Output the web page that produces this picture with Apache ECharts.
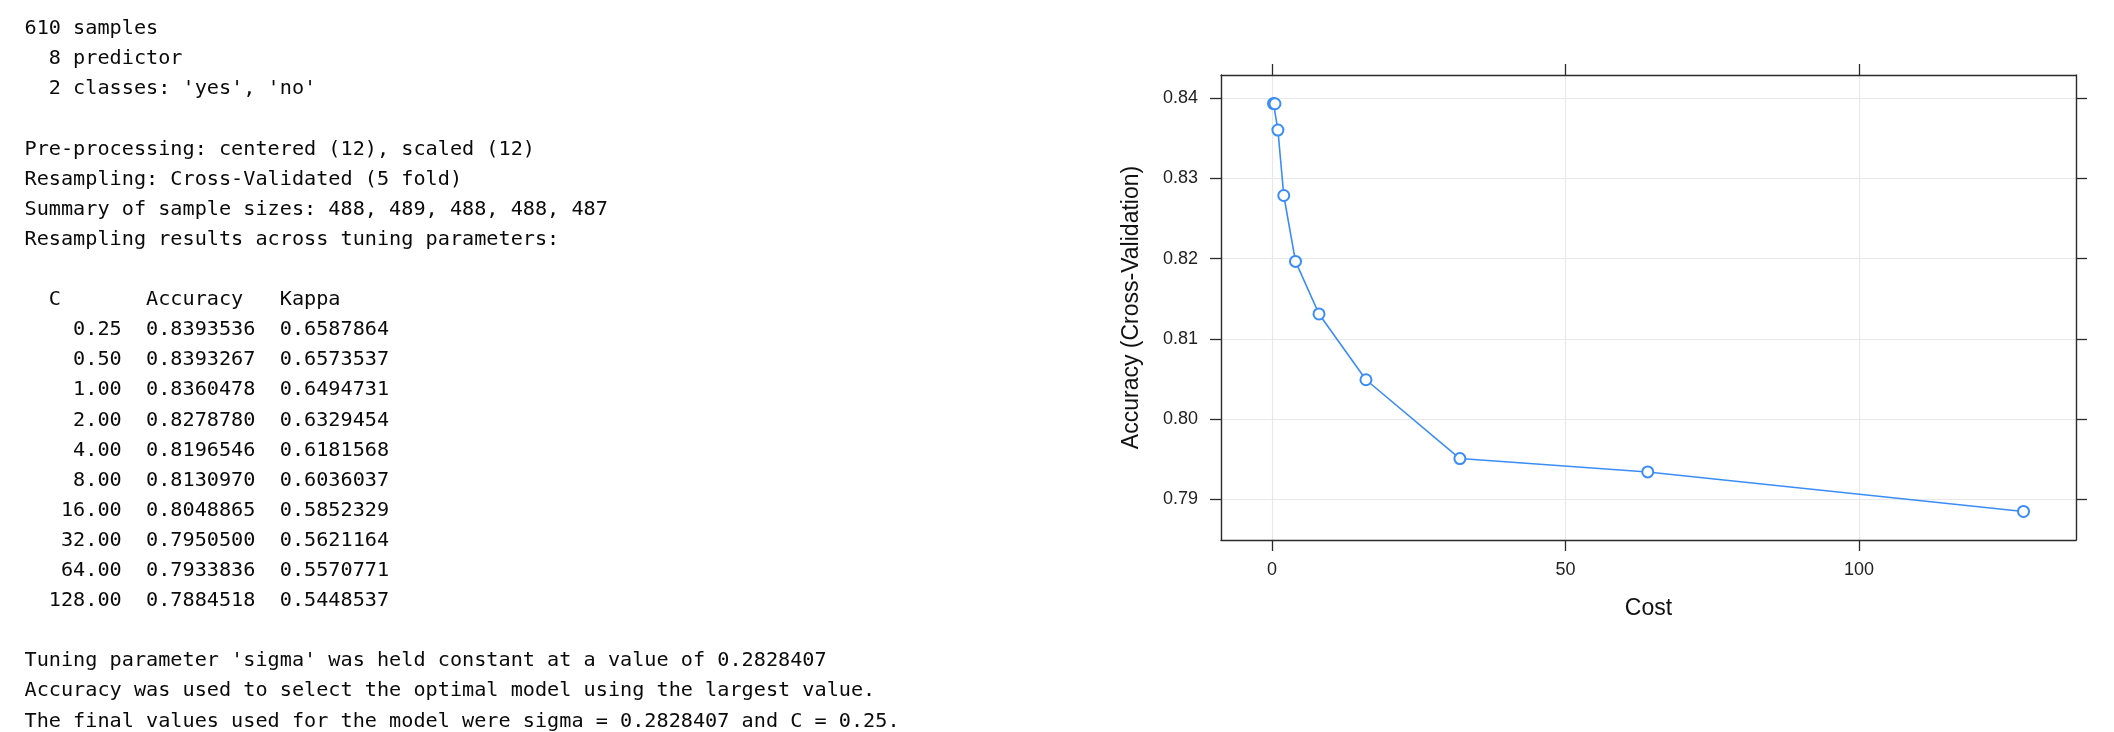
<!DOCTYPE html>
<html>
<head>
<meta charset="utf-8">
<script src="https://cdn.jsdelivr.net/npm/echarts@6/dist/echarts.min.js"></script>
<style>
html,body{margin:0;padding:0;background:#fff;}
#chart{width:2114px;height:732px;}
</style>
</head>
<body>
<div id="chart"></div>
<script>
// ---- data ----
const costC = [0.25, 0.5, 1, 2, 4, 8, 16, 32, 64, 128];
const accuracy = [0.8393536, 0.8393267, 0.8360478, 0.8278780, 0.8196546, 0.8130970, 0.8048865, 0.7950500, 0.7933836, 0.7884518];
const kappa = [0.6587864, 0.6573537, 0.6494731, 0.6329454, 0.6181568, 0.6036037, 0.5852329, 0.5621164, 0.5570771, 0.5448537];
const xTicks = [0, 50, 100];
const yTicks = [0.79, 0.80, 0.81, 0.82, 0.83, 0.84];
const headerLines = [
  "610 samples",
  "  8 predictor",
  "  2 classes: 'yes', 'no'",
  "",
  "Pre-processing: centered (12), scaled (12)",
  "Resampling: Cross-Validated (5 fold)",
  "Summary of sample sizes: 488, 489, 488, 488, 487",
  "Resampling results across tuning parameters:",
  "",
  "  C       Accuracy   Kappa"
];
const footerLines = [
  "",
  "Tuning parameter 'sigma' was held constant at a value of 0.2828407",
  "Accuracy was used to select the optimal model using the largest value.",
  "The final values used for the model were sigma = 0.2828407 and C = 0.25."
];

// ---- build ----
const rows = costC.map((c, i) =>
  c.toFixed(2).padStart(8, ' ') + '  ' + accuracy[i].toFixed(7) + '  ' + kappa[i].toFixed(7));
const lines = headerLines.concat(rows, footerLines);

const monoFont = '20.2px "DejaVu Sans Mono", "Liberation Mono", monospace';
const graphics = lines.map((t, i) => ({
  type: 'text',
  x: 24.5,
  y: 29 + i * 30.1,
  silent: true,
  style: { text: t, font: monoFont, fill: '#0a0a0a', verticalAlign: 'middle', textVerticalAlign: 'middle' }
}));

const cMin = Math.min(...costC), cMax = Math.max(...costC);
const aMin = Math.min(...accuracy), aMax = Math.max(...accuracy);
const xPad = (cMax - cMin) * 0.07, yPad = (aMax - aMin) * 0.07;
const xMin = cMin - xPad, xMax = cMax + xPad;
const yMin = aMin - yPad, yMax = aMax + yPad;

const sans = '"Liberation Sans", Arial, Helvetica, sans-serif';
const boxLine = { show: true, onZero: false, lineStyle: { color: '#2b2b2b', width: 1.4 } };
const tickStyle = { color: '#2b2b2b', width: 1.3 };
const gridLine = { show: true, lineStyle: { color: '#e8e8e8', width: 1.2 } };

const chart = echarts.init(document.getElementById('chart'), null, { renderer: 'canvas' });
chart.setOption({
  animation: false,
  backgroundColor: '#fff',
  graphic: graphics,
  grid: { left: 1221, right: 38, top: 75, bottom: 192, containLabel: false },
  xAxis: [
    {
      type: 'value', position: 'bottom', min: xMin, max: xMax,
      axisLine: boxLine,
      axisTick: { show: true, inside: false, length: 11, lineStyle: tickStyle, customValues: xTicks },
      axisLabel: { show: true, customValues: xTicks, margin: 21, fontSize: 18, color: '#222', fontFamily: sans,
                   formatter: v => String(v), showMinLabel: true, showMaxLabel: true },
      splitLine: gridLine,
      name: 'Cost', nameLocation: 'middle', nameGap: 57,
      nameTextStyle: { fontSize: 23, color: '#111', fontFamily: sans }
    },
    {
      type: 'value', position: 'top', min: xMin, max: xMax,
      axisLine: boxLine,
      axisTick: { show: true, inside: false, length: 11, lineStyle: tickStyle, customValues: xTicks },
      axisLabel: { show: false },
      splitLine: { show: false }
    }
  ],
  yAxis: [
    {
      type: 'value', position: 'left', min: yMin, max: yMax,
      axisLine: boxLine,
      axisTick: { show: true, inside: false, length: 11, lineStyle: tickStyle, customValues: yTicks },
      axisLabel: { show: true, customValues: yTicks, margin: 23, fontSize: 18, color: '#222', fontFamily: sans,
                   formatter: v => v.toFixed(2) },
      splitLine: gridLine,
      name: 'Accuracy (Cross-Validation)', nameLocation: 'middle', nameGap: 78,
      nameTextStyle: { fontSize: 23, color: '#111', fontFamily: sans }
    },
    {
      type: 'value', position: 'right', min: yMin, max: yMax,
      axisLine: boxLine,
      axisTick: { show: true, inside: false, length: 11, lineStyle: tickStyle, customValues: yTicks },
      axisLabel: { show: false },
      splitLine: { show: false }
    }
  ],
  series: [{
    type: 'line',
    xAxisIndex: 0, yAxisIndex: 0,
    data: costC.map((c, i) => [c, accuracy[i]]),
    symbol: 'emptyCircle',
    symbolSize: 11,
    showAllSymbol: true,
    lineStyle: { color: '#3a8df6', width: 1.6 },
    itemStyle: { color: '#3a8df6', borderColor: '#3a8df6', borderWidth: 1.8 },
    emphasis: { disabled: true },
    z: 5
  }]
});
</script>
</body>
</html>
